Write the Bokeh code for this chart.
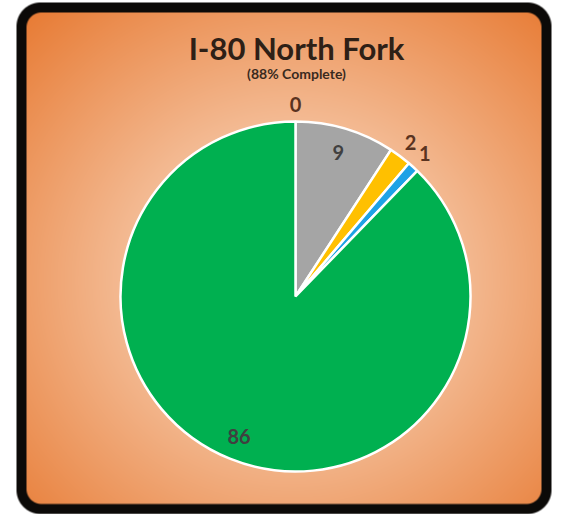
import numpy as np
from bokeh.plotting import figure
from bokeh.models import ColumnDataSource, Label, Range1d
from bokeh.core.properties import value
from bokeh.embed import file_html
from bokeh.resources import INLINE

# ---- data ----
categories = ["Not Started", "Stage A", "Stage B", "Stage C", "Complete"]
values = [0, 9, 2, 1, 86]
colors = ["#C00000", "#A5A5A5", "#FFC000", "#1FA2E6", "#00B050"]
title_text = "I-80 North Fork"
subtitle_text = "(88% Complete)"

W, H = 552, 514
p = figure(width=W, height=H, output_backend="svg", toolbar_location=None,
           x_range=Range1d(0, W), y_range=Range1d(0, H), min_border=0)
p.axis.visible = False
p.grid.visible = False
p.outline_line_color = None
p.background_fill_color = "white"
p.border_fill_color = "white"

# ---- background: rounded rectangle with radial gradient ----
xs = np.arange(W) + 0.5
ys = np.arange(H) + 0.5
X, Y = np.meshgrid(xs, ys)          # data coords, row 0 = bottom
left, right, top, bottom = 16, 551, H - 2, 0.5
cx_b, cy_b = (left + right) / 2.0, (top + bottom) / 2.0
hw, hh = (right - left) / 2.0, (top - bottom) / 2.0

def sd_rrect(X, Y, cx, cy, hw, hh, r):
    qx = np.maximum(np.abs(X - cx) - (hw - r), 0)
    qy = np.maximum(np.abs(Y - cy) - (hh - r), 0)
    return np.sqrt(qx ** 2 + qy ** 2) - r

d_out = sd_rrect(X, Y, cx_b, cy_b, hw, hh, 24)
d_in = sd_rrect(X, Y, cx_b, cy_b, hw - 10, hh - 10, 15)

gcx, gcy = 292, 234
d = np.sqrt(((X - gcx) / 270.0) ** 2 + ((Y - gcy) / 257.0) ** 2)
t = np.clip(d / 1.41, 0, 1)[..., None]
c0 = np.array([253, 235, 220], dtype=float)
c1 = np.array([232, 125, 55], dtype=float)
grad = c0 * (1 - t) + c1 * t

img = np.full((H, W, 3), 255.0)
a_out = np.clip(0.5 - d_out, 0, 1)[..., None]
a_in = np.clip(0.5 - d_in, 0, 1)[..., None]
black = np.array([12, 10, 8], dtype=float)
layer = black * (1 - a_in) + grad * a_in
img = img * (1 - a_out) + layer * a_out
rgba = np.empty((H, W), dtype=np.uint32)
view = rgba.view(dtype=np.uint8).reshape((H, W, 4))
view[..., :3] = img.astype(np.uint8)
view[..., 3] = 255
p.image_rgba(image=[rgba], x=0, y=0, dw=W, dh=H)

# ---- pie ----
cx, cy, R = 295, H - 296, 175
total = float(sum(values))
cum = np.concatenate([[0], np.cumsum(values)])
start = np.pi / 2 - cum[:-1] / total * 2 * np.pi
end = np.pi / 2 - cum[1:] / total * 2 * np.pi
keep = [i for i, v in enumerate(values) if v > 0]
src = ColumnDataSource(dict(
    start=[start[i] for i in keep], end=[end[i] for i in keep],
    color=[colors[i] for i in keep], cat=[categories[i] for i in keep]))
p.wedge(x=cx, y=cy, radius=R, start_angle="start", end_angle="end",
        direction="clock", fill_color="color", line_color="white",
        line_width=2.5, source=src)

# ---- labels ----
mid = (start + end) / 2
lr = [0.86 * R if v >= 5 else 1.1 * R for v in values]
lx = [cx + r * np.cos(a) for r, a in zip(lr, mid)]
ly = [cy + r * np.sin(a) for r, a in zip(lr, mid)]
lcol = ["#404040" if v >= 5 else "#5a3320" for v in values]
lsrc = ColumnDataSource(dict(x=lx, y=ly, t=[str(v) for v in values], c=lcol))
p.text(x="x", y="y", text="t", source=lsrc, text_color="c",
       text_font=value("Lato"), text_font_style="bold",
       text_font_size="20px", text_align="center", text_baseline="middle")

p.add_layout(Label(x=296, y=H - 47, text=title_text, text_font="Lato",
                   text_font_style="bold", text_font_size="31px",
                   text_color="#2e2016", text_align="center",
                   text_baseline="middle"))
p.add_layout(Label(x=296, y=H - 73, text=subtitle_text, text_font="Lato",
                   text_font_style="bold", text_font_size="14px",
                   text_color="#3a2a1e", text_align="center",
                   text_baseline="middle"))

open("out.html", "w").write(file_html(p, INLINE))
